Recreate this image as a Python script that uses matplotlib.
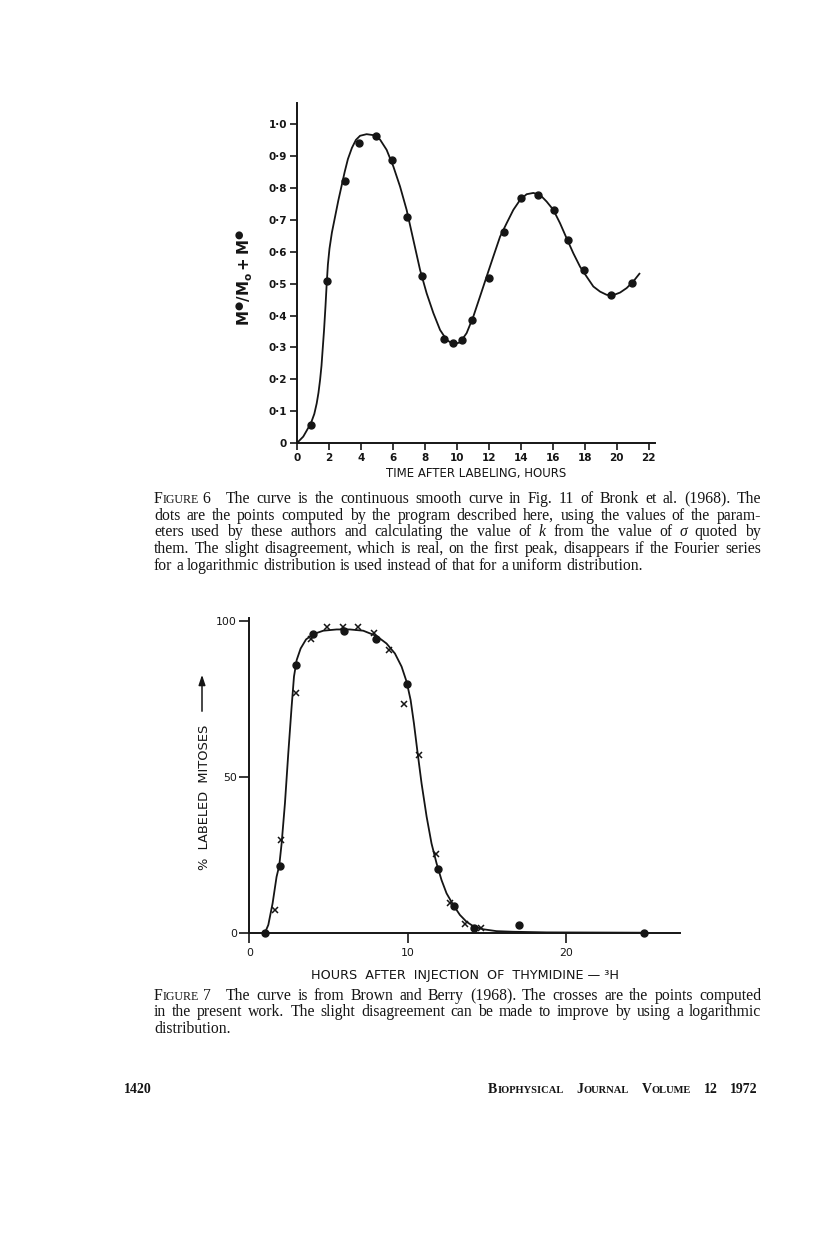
import numpy as np
import matplotlib
matplotlib.use("Agg")
import matplotlib.pyplot as plt

# ---- Figure 6 data (Bronk et al. curve + computed dots) ----
fig6_curve_x = [0, 0.41, 0.89, 1.1, 1.25, 1.36, 1.46, 1.55, 1.62, 1.71, 1.8, 1.87, 1.95, 2.05,
                2.2, 2.4, 2.6, 2.8, 3.0, 3.2, 3.45, 3.7, 3.96,
                4.37, 4.79, 5.21, 5.62, 6.04, 6.46, 6.87, 7.29, 7.71, 8.12, 8.54, 8.96,
                9.37, 9.79, 10.21, 10.62, 11.04, 11.46, 11.87, 12.29, 12.71, 13.12, 13.54,
                13.96, 14.37, 14.79, 15.21, 15.62, 16.04, 16.46, 16.87, 17.29, 17.71, 18.12,
                18.54, 18.96, 19.37, 19.79, 20.21, 20.62, 21.04, 21.42]
fig6_curve_y = [0, 0.021, 0.063, 0.092, 0.125, 0.158, 0.198, 0.243, 0.292, 0.355, 0.43, 0.495,
                0.56, 0.61, 0.66, 0.71, 0.76, 0.805, 0.85, 0.89, 0.925, 0.950,
                0.963, 0.968, 0.965, 0.951, 0.919, 0.867, 0.804, 0.731, 0.637, 0.543, 0.470,
                0.408, 0.355, 0.324, 0.310, 0.316, 0.345, 0.397, 0.460, 0.522, 0.585, 0.647,
                0.689, 0.731, 0.762, 0.780, 0.784, 0.778, 0.757, 0.731, 0.689, 0.642, 0.595,
                0.553, 0.522, 0.491, 0.475, 0.465, 0.464, 0.472, 0.486, 0.507, 0.531]
fig6_dots_x = [0.89, 1.87, 3.0, 3.91, 4.98, 5.96, 6.92, 7.85, 9.21, 9.79, 10.33, 10.96,
               12.04, 12.96, 14.0, 15.06, 16.06, 16.96, 17.94, 19.66, 20.98]
fig6_dots_y = [0.057, 0.508, 0.821, 0.941, 0.962, 0.887, 0.710, 0.524, 0.326, 0.315, 0.324,
               0.387, 0.517, 0.662, 0.769, 0.779, 0.730, 0.637, 0.543, 0.464, 0.503]
fig6_xticks = list(range(0, 23, 2))
fig6_yticks = [0, 0.1, 0.2, 0.3, 0.4, 0.5, 0.6, 0.7, 0.8, 0.9, 1.0]
fig6_ylabels = ["0", "0·1", "0·2", "0·3", "0·4", "0·5", "0·6", "0·7", "0·8", "0·9", "1·0"]

# ---- Figure 7 data (Brown and Berry curve, their dots, computed crosses) ----
fig7_curve_x = [0.99, 1.2, 1.47, 1.72, 1.89, 2.04, 2.25, 2.46, 2.67, 2.82, 2.99, 3.24, 3.58,
                4.04, 4.67, 5.51, 6.35, 7.19, 8.03, 8.66, 9.19, 9.61, 9.93, 10.18, 10.39,
                10.6, 10.87, 11.19, 11.5, 11.82, 12.13, 12.45, 12.87, 13.29, 13.71, 14.13,
                14.76, 15.6, 16.66, 18.76, 24.86]
fig7_curve_y = [0, 2.5, 9.4, 17.9, 21.5, 28.6, 41.5, 57.5, 72.4, 82.1, 87.4, 91.1, 94.0,
                95.7, 96.8, 97.2, 97.2, 96.8, 95.1, 92.7, 89.5, 85.3, 80.4, 74.6, 67.1,
                58.5, 47.9, 37.2, 28.6, 22.2, 16.9, 12.6, 8.9, 5.7, 3.5, 2.1,
                1.1, 0.5, 0.3, 0.1, 0]
fig7_dots_x = [1.01, 1.91, 2.97, 4.0, 5.95, 7.97, 9.95, 11.9, 12.93, 14.15, 16.99, 24.88]
fig7_dots_y = [0, 21.5, 85.8, 95.6, 96.8, 94.0, 79.7, 20.3, 8.5, 1.6, 2.4, 0]
fig7_cross_x = [1.6, 2.0, 2.92, 3.91, 4.92, 5.91, 6.83, 7.84, 8.83, 9.74, 10.68, 11.8,
                12.64, 13.59, 14.62]
fig7_cross_y = [7.2, 29.7, 76.7, 94.3, 98.1, 98.1, 97.9, 96.2, 90.6, 73.2, 57.1, 25.2,
                9.6, 2.8, 1.6]
fig7_xticks = [0, 10, 20]
fig7_yticks = [0, 50, 100]

# ---- page text ----
CAP = 11.3
SC = 8.6
fig6_caption = [
    [[("F", CAP), ("IGURE", SC), (" 6", CAP), (None, 9)], "The", "curve", "is", "the",
     "continuous", "smooth", "curve", "in", "Fig.", "11", "of", "Bronk", "et", "al.",
     "(1968).", "The"],
    "dots are the points computed by the program described here, using the values of the param-".split(),
    ["eters", "used", "by", "these", "authors", "and", "calculating", "the", "value", "of",
     [("k", CAP, "italic")], "from", "the", "value", "of", [("σ", CAP, "italic")], "quoted", "by"],
    "them. The slight disagreement, which is real, on the first peak, disappears if the Fourier series".split(),
    "for a logarithmic distribution is used instead of that for a uniform distribution.".split(),
]
fig7_caption = [
    [[("F", CAP), ("IGURE", SC), (" 7", CAP), (None, 9)], "The", "curve", "is", "from",
     "Brown", "and", "Berry", "(1968).", "The", "crosses", "are", "the", "points", "computed"],
    "in the present work. The slight disagreement can be made to improve by using a logarithmic".split(),
    ["distribution."],
]
footer_right = [[("B", 10), ("IOPHYSICAL", 7.6)], [("J", 10), ("OURNAL", 7.6)],
                [("V", 10), ("OLUME", 7.6)], [("12", 10)], [("1972", 10)]]

W, H = 816, 1237
plt.rcParams["font.family"] = "DejaVu Sans"
INK = "#151515"

fig = plt.figure(figsize=(W / 100, H / 100), dpi=100)
fig.patch.set_facecolor("white")


def fx(px):
    return px / W


def fy(py):
    return 1 - py / H


def style_axes(ax, tick_len):
    for s in ["top", "right"]:
        ax.spines[s].set_visible(False)
    for s in ["left", "bottom"]:
        ax.spines[s].set_linewidth(1.4)
        ax.spines[s].set_color(INK)
    ax.tick_params(direction="out", length=tick_len, width=1.2, colors=INK, pad=2)
    ax.set_facecolor("none")


# Figure 6
ax6 = fig.add_axes([fx(296.7), fy(443.3), 358.4 / W, 340.1 / H])
style_axes(ax6, 5)
ax6.plot(fig6_curve_x, fig6_curve_y, color=INK, lw=1.3, solid_joinstyle="round")
ax6.plot(fig6_dots_x, fig6_dots_y, "o", color=INK, ms=5.0, clip_on=False)
ax6.set_xlim(0, 22.4)
ax6.set_ylim(0, 1.065)
ax6.set_xticks(fig6_xticks)
ax6.set_xticklabels([str(v) for v in fig6_xticks], fontsize=7.5, fontweight="bold")
ax6.set_yticks(fig6_yticks)
ax6.set_yticklabels(fig6_ylabels, fontsize=7.5, fontweight="bold")
ax6.set_xlabel("TIME AFTER LABELING, HOURS", fontsize=8.5, labelpad=3, color=INK)
fig.text(fx(244), fy(277), "$\\mathbf{M^{\u25cf}/M_{o}+M^{\u25cf}}$", rotation=90,
         ha="center", va="center", fontsize=10.8, color=INK)

# Figure 7
ax7 = fig.add_axes([fx(249.3), fy(932.7), 431 / W, 315.1 / H])
style_axes(ax7, 7)
ax7.plot(fig7_curve_x, fig7_curve_y, color=INK, lw=1.3, solid_joinstyle="round")
ax7.plot(fig7_dots_x, fig7_dots_y, "o", color=INK, ms=5.0, clip_on=False, zorder=4)
ax7.plot(fig7_cross_x, fig7_cross_y, "x", color=INK, ms=4.5, mew=1.1, clip_on=False, zorder=4)
ax7.set_xlim(0, 27.2)
ax7.set_ylim(0, 101)
ax7.set_xticks(fig7_xticks)
ax7.set_xticklabels([str(v) for v in fig7_xticks], fontsize=7.8)
ax7.set_yticks(fig7_yticks)
ax7.set_yticklabels([str(v) for v in fig7_yticks], fontsize=7.8)
ax7.tick_params(axis="x", pad=4)
ax7.set_xlabel("HOURS  AFTER  INJECTION  OF  THYMIDINE \u2014 \u00b3H", fontsize=9.2,
               labelpad=8, color=INK)
fig.text(fx(205), fy(797), "%  LABELED  MITOSES", rotation=90, ha="center", va="center",
         fontsize=9.4, color=INK)
ax7.annotate("", xy=(fx(202), fy(672)), xytext=(fx(202), fy(714)), xycoords="figure fraction",
             textcoords="figure fraction", annotation_clip=False,
             arrowprops=dict(arrowstyle="-|>,head_length=0.6,head_width=0.2", color=INK, lw=1.1))

# ---- justified serif text ----
fig.canvas.draw()
renderer = fig.canvas.get_renderer()
SERIF = "Liberation Serif"


def segs_of(word):
    if isinstance(word, str):
        return [(word, CAP, "normal")]
    out = []
    for s in word:
        out.append((s[0], s[1], s[2] if len(s) > 2 else "normal"))
    return out


def seg_width(seg, weight):
    txt, size, st = seg
    if txt is None:
        return size
    t = fig.text(0, 0, txt, fontsize=size, family=SERIF, style=st, fontweight=weight)
    w = t.get_window_extent(renderer).width
    t.remove()
    return w


def place_line(words, x0, x1, base, justify=True, weight="normal"):
    all_segs = [segs_of(w) for w in words]
    widths = [sum(seg_width(s, weight) for s in segs) for segs in all_segs]
    if justify and len(words) > 1:
        gap = max(2.0, (x1 - x0 - sum(widths)) / (len(words) - 1))
    else:
        gap = 3.8
    x = x0
    for segs, wd in zip(all_segs, widths):
        xx = x
        for s in segs:
            if s[0] is not None:
                fig.text(fx(xx), fy(base), s[0], fontsize=s[1], family=SERIF, style=s[2],
                         fontweight=weight, color=INK, va="baseline", ha="left")
            xx += seg_width(s, weight)
        x += wd + gap


for i, line in enumerate(fig6_caption):
    place_line(line, 154, 761, 503 + i * 16.7, justify=(i < len(fig6_caption) - 1))
for i, line in enumerate(fig7_caption):
    place_line(line, 154, 761, 1000 + i * 16.5, justify=(i < len(fig7_caption) - 1))

place_line(footer_right, 488, 758, 1093, justify=True, weight="bold")
fig.text(fx(124), fy(1093), "1420", fontsize=10, family=SERIF, fontweight="bold",
         color=INK, va="baseline", ha="left")

fig.savefig("out.png", dpi=100, facecolor="white")
